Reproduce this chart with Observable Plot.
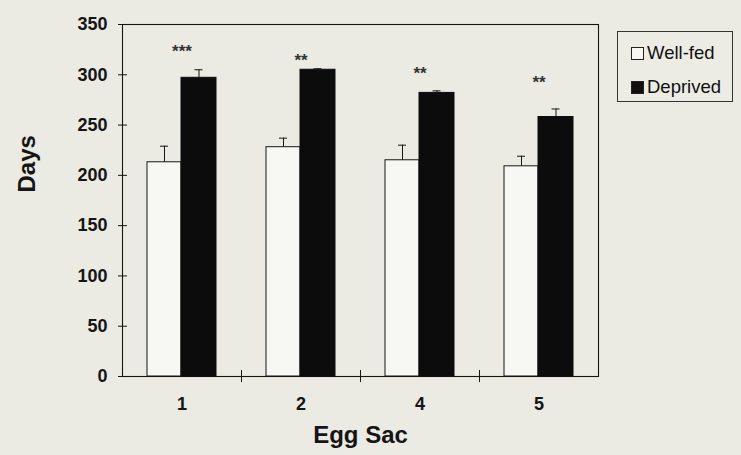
<!DOCTYPE html>
<html>
<head>
<meta charset="utf-8">
<script src="https://cdn.jsdelivr.net/npm/d3@7"></script>
<script src="https://cdn.jsdelivr.net/npm/@observablehq/plot@0.6"></script>
<style>
  html, body { margin: 0; padding: 0; background: #ebeae3; }
  body { width: 741px; height: 455px; position: relative; overflow: hidden; font-family: "Liberation Sans", Arial, sans-serif; }
  #chart { position: absolute; left: 0; top: 0; }
  #legend {
    position: absolute; left: 617px; top: 31px; width: 114px; height: 69px;
    border: 1px solid #333; background: #ecebe4; box-sizing: content-box;
    font-size: 18.5px; color: #111;
  }
  .item { position: absolute; left: 13px; display: flex; align-items: center; }
  .sw { width: 13px; height: 13px; border: 1px solid #222; margin-right: 3px; box-sizing: border-box; }
</style>
</head>
<body>
<div id="chart"></div>
<div id="legend">
  <div class="item" style="top:10px"><div class="sw" style="background:#f7f7f4"></div>Well-fed</div>
  <div class="item" style="top:44px"><div class="sw" style="background:#111"></div>Deprived</div>
</div>
<script>
const eggSacs = ["1", "2", "4", "5"];
const wellFed = [213, 228, 215, 209];
const wellFedErr = [16, 9, 15, 10];
const deprived = [297, 305, 282, 258];
const deprivedErr = [8, 1, 2, 8];
const sigLabels = ["***", "**", "**", "**"];
const sigLabelDays = [327, 318, 305, 296];
const yTicks = [0, 50, 100, 150, 200, 250, 300, 350];

const rows = eggSacs.map((s, i) => ({
  sac: s, wf: wellFed[i], wfe: wellFedErr[i], dp: deprived[i], dpe: deprivedErr[i],
  sig: sigLabels[i], sigY: sigLabelDays[i]
}));

const ink = "#151515";

const chart = Plot.plot({
  width: 741,
  height: 455,
  marginLeft: 122,
  marginRight: 143,
  marginTop: 24,
  marginBottom: 79,
  style: { background: "transparent", fontFamily: "'Liberation Sans', Arial, sans-serif", color: ink },
  x: { domain: eggSacs, padding: 0, label: null, tickSize: 0, tickPadding: 21 },
  y: { domain: [0, 350], ticks: yTicks, label: null, tickSize: 4, tickPadding: 11, tickFormat: d => String(d) },
  marks: [
    Plot.frame({ stroke: ink, strokeWidth: 1.1 }),
    Plot.tickY(yTicks, { y: d => d, x: () => eggSacs[0], insetRight: 114, stroke: ink }),
    Plot.ruleX(eggSacs.slice(0, 3), { x: d => d, dx: 59.5, y1: -6, y2: 6, stroke: ink }),
    Plot.barY(rows, { x: "sac", y: "wf", fill: "#f7f7f4", stroke: ink, strokeWidth: 1, insetLeft: 25, insetRight: 60 }),
    Plot.barY(rows, { x: "sac", y: "dp", fill: "#0c0c0c", stroke: "#0c0c0c", insetLeft: 59, insetRight: 25 }),
    Plot.ruleX(rows, { x: "sac", y1: "wf", y2: d => d.wf + d.wfe, dx: -17.5, stroke: ink }),
    Plot.tickY(rows, { x: "sac", y: d => d.wf + d.wfe, insetLeft: 38, insetRight: 73, stroke: ink }),
    Plot.ruleX(rows, { x: "sac", y1: "dp", y2: d => d.dp + d.dpe, dx: 17, stroke: ink }),
    Plot.tickY(rows, { x: "sac", y: d => d.dp + d.dpe, insetLeft: 72.5, insetRight: 38.5, stroke: ink }),
    Plot.text(rows, { x: "sac", y: "sigY", text: "sig", fontSize: 17, fontWeight: "bold", fill: "#333", dy: 4 }),
    Plot.text(["Days"], { frameAnchor: "left", dx: -95, dy: -8, rotate: -90, fontSize: 24, fontWeight: "bold", fill: ink }),
    Plot.text(["Egg Sac"], { frameAnchor: "bottom", dy: 66, fontSize: 24, fontWeight: "bold", fill: ink })
  ]
});

chart.querySelectorAll("g[aria-label='y-axis tick label'], g[aria-label='x-axis tick label'], g[aria-label='y-axis'], g[aria-label='x-axis']").forEach(g => {
  g.setAttribute("font-weight", "bold");
  g.setAttribute("font-size", "18");
});
document.getElementById("chart").appendChild(chart);
</script>
</body>
</html>
